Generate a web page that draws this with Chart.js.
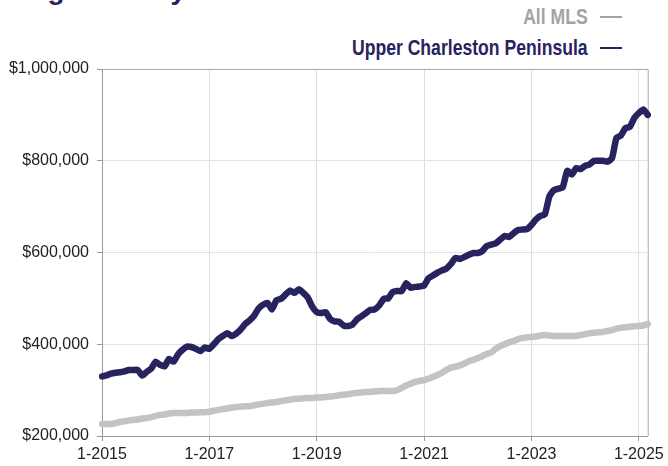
<!DOCTYPE html>
<html>
<head>
<meta charset="utf-8">
<script src="https://cdn.jsdelivr.net/npm/chart.js@4"></script>
<style>
  html, body { margin: 0; padding: 0; background: #fff; }
  #wrap { position: relative; width: 668px; height: 466px; overflow: hidden; }
  #title { position: absolute; left: 4px; top: -26px; line-height: 28px; font: bold 28px "Liberation Sans", Arial, sans-serif; color: #27235f; white-space: nowrap; }
  .leg { position: absolute; right: 80px; font-family: "Liberation Sans", Arial, sans-serif; font-weight: bold; font-size: 22px; white-space: nowrap; line-height: 24px; }
  .leg .txt { display: inline-block; transform: scaleX(0.8); transform-origin: right center; }
  .leg .dash { position: absolute; left: 100%; margin-left: 12px; top: 11px; width: 22px; height: 2px; }
  canvas { position: absolute; left: 0; top: 0; }
</style>
</head>
<body>
<div id="wrap">
  <div id="title">Single-Family Detached</div>
  <div class="leg" id="leg0" style="top:5px"></div>
  <div class="leg" id="leg1" style="top:36px"></div>
  <canvas id="c" width="668" height="466"></canvas>
</div>
<script>
// ---- data ----
const startYear = 2015;
const monthCount = 123; // Jan 2015 .. Mar 2025
const seriesNames = ["All MLS", "Upper Charleston Peninsula"];
const seriesColors = ["#c3c3c3", "#27235f"];
const legendTextColors = ["#a3a3a3", "#27235f"];
const yTicks = [200000, 400000, 600000, 800000, 1000000];

const allMLS = [
  226000,226000,226000,228000,231000,232000,234000,235000,236000,238000,239000,241000,
  244000,246000,247000,249000,250000,250000,250000,250000,251000,251000,252000,252000,
  253000,255000,257000,259000,260000,262000,263000,264000,265000,265000,267000,269000,
  270000,272000,273000,274000,276000,278000,279000,281000,281000,282000,283000,283000,
  284000,284000,285000,286000,287000,289000,290000,291000,293000,294000,295000,296000,
  296000,297000,298000,298000,298000,298000,300000,305000,310000,314000,318000,320000,
  322000,325000,329000,333000,338000,344000,349000,351000,354000,358000,363000,366000,
  370000,374000,379000,382000,390000,396000,400000,404000,407000,411000,414000,415000,
  416000,417000,419000,420000,419000,418000,418000,418000,418000,418000,418000,420000,
  422000,424000,425000,426000,427000,429000,431000,434000,436000,437000,438000,439000,
  440000,441000,444000
];

const upperPeninsula = [
  330000,332000,336000,338000,339000,341000,344000,344000,344000,332000,340000,347000,
  362000,355000,352000,368000,362000,378000,388000,395000,394000,390000,385000,393000,
  390000,400000,411000,418000,424000,418000,423000,432000,444000,452000,462000,478000,
  486000,490000,476000,496000,499000,508000,517000,512000,520000,512000,502000,482000,
  470000,468000,470000,455000,450000,449000,441000,440000,443000,454000,461000,468000,
  475000,476000,485000,499000,500000,514000,516000,516000,533000,523000,525000,526000,
  528000,544000,550000,556000,561000,565000,575000,588000,586000,590000,595000,599000,
  599000,603000,614000,617000,620000,628000,636000,634000,642000,649000,650000,651000,
  660000,672000,680000,683000,722000,736000,739000,742000,778000,770000,784000,782000,
  789000,792000,800000,800000,800000,798000,805000,850000,855000,871000,874000,893000,
  904000,912000,900000
];

const months = [];
for (let i = 0; i < monthCount; i++) {
  months.push(((i % 12) + 1) + "-" + (startYear + Math.floor(i / 12)));
}

// ---- legend ----
seriesNames.forEach((n, k) => {
  const el = document.getElementById("leg" + k);
  el.style.color = legendTextColors[k];
  el.innerHTML = '<span class="txt">' + n + '</span><span class="dash" style="background:' + legendTextColors[k] + '"></span>';
});

const borderPlugin = {
  id: "areaBorder",
  beforeDatasetsDraw(chart) {
    const { ctx, chartArea: a } = chart;
    ctx.save();
    ctx.strokeStyle = "#aaaaaa";
    ctx.lineWidth = 1;
    ctx.beginPath();
    ctx.moveTo(a.left, a.top + 0.5);
    ctx.lineTo(a.right + 0.5, a.top + 0.5);
    ctx.lineTo(a.right + 0.5, a.bottom);
    ctx.stroke();
    ctx.restore();
  }
};

new Chart(document.getElementById("c"), {
  type: "line",
  data: {
    labels: months,
    datasets: [
      { label: seriesNames[0], data: allMLS, borderColor: seriesColors[0], borderWidth: 6.5, pointRadius: 0, tension: 0.15, borderJoinStyle: "round", borderCapStyle: "round" },
      { label: seriesNames[1], data: upperPeninsula, borderColor: seriesColors[1], borderWidth: 6.5, pointRadius: 0, tension: 0.15, borderJoinStyle: "round", borderCapStyle: "round" }
    ]
  },
  options: {
    responsive: false,
    animation: false,
    devicePixelRatio: 1,
    layout: { padding: { left: 0, top: 69, right: 18, bottom: 0 } },
    plugins: { legend: { display: false }, tooltip: { enabled: false } },
    scales: {
      x: {
        type: "category",
        offset: false,
        grid: { color: "#dddddd", tickColor: "#999999", tickLength: 5, drawOnChartArea: true },
        border: { color: "#999999", width: 1 },
        ticks: {
          autoSkip: false, maxRotation: 0, color: "#222222", padding: 4,
          font: { family: "'Liberation Sans', Arial, sans-serif", size: 16 },
          callback: function (v, i) { return (i % 24 === 0) ? months[i] : null; }
        },
        afterFit: function (s) { s.height = 30; }
      },
      y: {
        min: yTicks[0], max: yTicks[yTicks.length - 1],
        afterBuildTicks: function (s) { s.ticks = yTicks.map(v => ({ value: v })); },
        grid: { color: "#e3e3e3", tickColor: "#999999", tickLength: 5 },
        border: { color: "#999999", width: 1 },
        ticks: {
          color: "#222222", padding: 8,
          font: { family: "'Liberation Sans', Arial, sans-serif", size: 16 },
          callback: function (v) { return "$" + v.toLocaleString("en-US"); }
        },
        afterFit: function (s) { s.width = 102; }
      }
    }
  },
  plugins: [borderPlugin]
});
</script>
</body>
</html>
